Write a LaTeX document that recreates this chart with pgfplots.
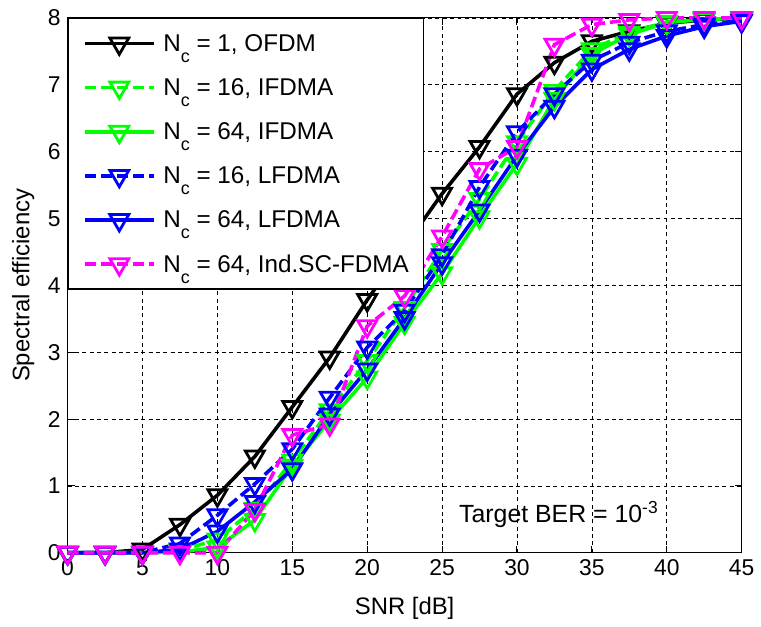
\documentclass[border=0pt]{standalone}
\usepackage{fontspec}
\setmainfont{Liberation Sans}
\usepackage{pgfplots}
\pgfplotsset{compat=1.18}
\definecolor{mgreen}{rgb}{0,1,0}
\definecolor{mblue}{rgb}{0,0,1}
\definecolor{mmag}{rgb}{1,0,1}
\newcommand{\Nc}{N\raisebox{-5.5pt}{\fontsize{9}{9}\selectfont c}}
\begin{document}
\begin{tikzpicture}
\begin{axis}[
  name=ax,
  scale only axis,
  width=339pt, height=269pt,
  xmin=0, xmax=45, ymin=0, ymax=8,
  xtick={0,5,...,45}, ytick={0,1,...,8},
  /pgf/number format/assume math mode=true,
  tick label style={font=\fontsize{11.5}{12}\selectfont},
  xlabel={SNR [dB]}, ylabel={Spectral efficiency},
  label style={font=\fontsize{12}{13}\selectfont},
  xlabel style={yshift=-4pt},
  ylabel style={yshift=0pt},
  grid=major,
  major grid style={black, line width=0.35pt, dash pattern=on 2pt off 1.7pt},
  axis line style={line width=0.6pt},
  tick align=inside, major tick length=3.5pt,
  every tick/.style={black, line width=0.5pt},
  clip=false,
  legend style={at={(0,1)}, anchor=north west, draw=black, line width=0.7pt,
    font=\fontsize{12.2}{13}\selectfont, fill=white,
    nodes={inner sep=0pt, text height=12pt, text depth=4pt},
    row sep=6.2pt, column sep=4pt, inner xsep=7.5pt, inner ysep=4.5pt},
  legend cell align=left,
  legend image code/.code={\draw[mark repeat=2,mark phase=2,#1] plot coordinates {(0pt,0pt) (17.25pt,0pt) (34.5pt,0pt)};},
  every axis plot/.append style={line width=1.8pt, mark=triangle, mark size=5.5pt,
    mark options={rotate=180, solid, line width=1.4pt, fill=none}},
]
\addplot[black] coordinates {(0,0) (2.5,0) (5,0.05) (7.5,0.42) (10,0.86) (12.5,1.44) (15,2.18) (17.5,2.92) (20,3.78) (22.5,4.58) (25,5.37) (27.5,6.07) (30,6.86) (32.5,7.33) (35,7.65) (37.5,7.80) (40,7.92) (42.5,7.97) (45,7.99)};
\addlegendentry{\Nc\ = 1, OFDM}
\addplot[mgreen, dash pattern=on 5.5pt off 2.5pt] coordinates {(0,0) (2.5,0) (5,0) (7.5,0.03) (10,0.2) (12.5,0.66) (15,1.38) (17.5,2.13) (20,2.87) (22.5,3.66) (25,4.53) (27.5,5.29) (30,6.14) (32.5,6.91) (35,7.53) (37.5,7.78) (40,7.94) (42.5,7.98) (45,7.99)};
\addlegendentry{\Nc\ = 16, IFDMA}
\addplot[mgreen] coordinates {(0,0) (2.5,0) (5,0) (7.5,0.01) (10,0.08) (12.5,0.49) (15,1.3) (17.5,1.98) (20,2.62) (22.5,3.44) (25,4.18) (27.5,5.02) (30,5.82) (32.5,6.79) (35,7.46) (37.5,7.75) (40,7.93) (42.5,7.98) (45,7.99)};
\addlegendentry{\Nc\ = 64, IFDMA}
\addplot[mblue, dash pattern=on 5.5pt off 2.5pt] coordinates {(0,0) (2.5,0) (5,0) (7.5,0.14) (10,0.56) (12.5,1.03) (15,1.55) (17.5,2.32) (20,3.07) (22.5,3.62) (25,4.45) (27.5,5.47) (30,6.29) (32.5,6.86) (35,7.36) (37.5,7.63) (40,7.80) (42.5,7.90) (45,7.96)};
\addlegendentry{\Nc\ = 16, LFDMA}
\addplot[mblue] coordinates {(0,0) (2.5,0) (5,0) (7.5,0.05) (10,0.32) (12.5,0.76) (15,1.25) (17.5,2.07) (20,2.74) (22.5,3.51) (25,4.33) (27.5,5.12) (30,5.94) (32.5,6.67) (35,7.23) (37.5,7.53) (40,7.73) (42.5,7.87) (45,7.95)};
\addlegendentry{\Nc\ = 64, LFDMA}
\addplot[mmag, dash pattern=on 5.5pt off 2.5pt] coordinates {(0,0) (2.5,0) (5,0) (7.5,0) (10,0) (12.5,0.64) (15,1.76) (17.5,1.92) (20,3.39) (22.5,3.84) (25,4.73) (27.5,5.74) (30,6.07) (32.5,7.6) (35,7.9) (37.5,7.97) (40,8.0) (42.5,8.0) (45,8.0)};
\addlegendentry{\Nc\ = 64, Ind.SC-FDMA}
\node[font=\fontsize{12.5}{13}\selectfont] at (axis cs:32.8,0.57) {Target BER = 10\textsuperscript{-3}};
\end{axis}
\path ([shift={(-34pt,-33pt)}]ax.south west) ([shift={(7.5pt,9pt)}]ax.north east);
\end{tikzpicture}
\end{document}
